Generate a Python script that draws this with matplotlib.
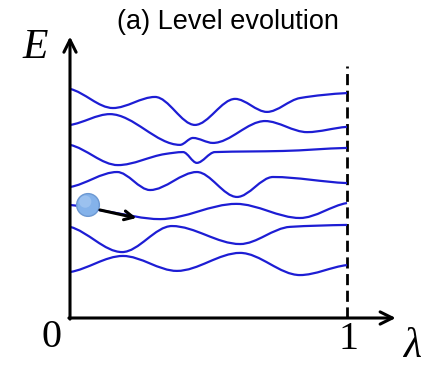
import numpy as np
import matplotlib.pyplot as plt
from matplotlib.path import Path
from matplotlib.patches import PathPatch, Circle

# ---- data: level sketch points (lambda, E) ----
level1_lam = [0.0, 0.155, 0.307, 0.451, 0.596, 0.711, 0.830, 1.0]
level1_E = [0.827, 0.758, 0.798, 0.697, 0.791, 0.744, 0.794, 0.812]

level2_lam = [0.0, 0.144, 0.397, 0.444, 0.516, 0.704, 0.856, 1.0]
level2_E = [0.697, 0.736, 0.625, 0.650, 0.632, 0.711, 0.671, 0.690]

level3_lam = [0.0, 0.173, 0.343, 0.408, 0.458, 0.523, 0.769, 1.0]
level3_E = [0.625, 0.552, 0.592, 0.599, 0.560, 0.599, 0.603, 0.614]

level4_lam = [0.0, 0.170, 0.289, 0.458, 0.603, 0.733, 1.0]
level4_E = [0.473, 0.527, 0.462, 0.527, 0.437, 0.509, 0.487]

level5_lam = [0.0, 0.144, 0.325, 0.600, 0.830, 1.0]
level5_E = [0.408, 0.383, 0.357, 0.412, 0.361, 0.415]

level6_lam = [0.0, 0.188, 0.368, 0.614, 0.794, 1.0]
level6_E = [0.329, 0.238, 0.332, 0.267, 0.329, 0.336]

level7_lam = [0.0, 0.191, 0.386, 0.614, 0.830, 1.0]
level7_E = [0.166, 0.224, 0.170, 0.235, 0.155, 0.191]

levels = [(level1_lam, level1_E), (level2_lam, level2_E), (level3_lam, level3_E),
          (level4_lam, level4_E), (level5_lam, level5_E), (level6_lam, level6_E),
          (level7_lam, level7_E)]

ball_lam, ball_E = 0.065, 0.408
arrow_start = (0.108, 0.390)
arrow_end = (0.240, 0.361)

BLUE = '#1d1dd4'


def smooth_path(xs, ys):
    """cubic bezier through the points, flat tangents at the bumps"""
    xs = np.asarray(xs, float)
    ys = np.asarray(ys, float)
    h = np.diff(xs)
    d = np.diff(ys) / h
    m = np.zeros(len(xs))
    m[0] = d[0] * 0.5
    m[-1] = d[-1] * 0.5
    for i in range(1, len(xs) - 1):
        if d[i - 1] * d[i] > 0:
            m[i] = 2.0 / (1.0 / d[i - 1] + 1.0 / d[i])
    verts = [(xs[0], ys[0])]
    codes = [Path.MOVETO]
    for i in range(len(xs) - 1):
        verts += [(xs[i] + h[i] / 3, ys[i] + m[i] * h[i] / 3),
                  (xs[i + 1] - h[i] / 3, ys[i + 1] - m[i + 1] * h[i] / 3),
                  (xs[i + 1], ys[i + 1])]
        codes += [Path.CURVE4] * 3
    return Path(verts, codes)


fig = plt.figure(figsize=(4.33, 3.68), dpi=100)
ax = fig.add_axes([0, 0, 1, 1])
ax.set_xlim(-70 / 277, 363 / 277)
ax.set_ylim(-50 / 277, 318 / 277)
ax.axis('off')

for lam, E in levels:
    ax.add_patch(PathPatch(smooth_path(lam, E), facecolor='none',
                           edgecolor=BLUE, lw=1.6, zorder=3))

# axes with arrow heads
ax.annotate('', xy=(0, 1.016), xytext=(0, -0.004),
            arrowprops=dict(arrowstyle='->', lw=2.2, color='black',
                            mutation_scale=22, shrinkA=0, shrinkB=0))
ax.annotate('', xy=(1.176, 0), xytext=(-0.004, 0),
            arrowprops=dict(arrowstyle='->', lw=2.2, color='black',
                            mutation_scale=22, shrinkA=0, shrinkB=0))

# lambda = 1 marker
ax.plot([1.0, 1.0], [0.0, 0.91], color='black', lw=2.0,
        linestyle=(0, (4, 2)), zorder=2)

# the state ball and its push
ax.add_patch(Circle((ball_lam, ball_E), 0.041, facecolor='#84b2ea',
                    edgecolor='#6c98d2', lw=1.0, zorder=5))
ax.add_patch(Circle((ball_lam - 0.010, ball_E + 0.012), 0.022,
                    facecolor='#a5c8f2', edgecolor='none', zorder=6, alpha=0.7))
ax.annotate('', xy=arrow_end, xytext=arrow_start,
            arrowprops=dict(arrowstyle='->', lw=2.2, color='black',
                            mutation_scale=16, shrinkA=0, shrinkB=0), zorder=6)

serif = dict(family='Liberation Serif')
ax.text(-0.126, 0.975, 'E', fontsize=30, style='italic', ha='center', va='center', **serif)
ax.text(-0.065, -0.069, '0', fontsize=29, ha='center', va='center', **serif)
ax.text(1.004, -0.079, '1', fontsize=29, ha='center', va='center', **serif)
ax.text(1.235, -0.105, 'λ', fontsize=30, style='italic', ha='center', va='center', **serif)
ax.text(0.570, 1.069, '(a) Level evolution', fontsize=19.5, ha='center', va='center',
        family='Liberation Sans')

plt.savefig('out.png', dpi=100)
